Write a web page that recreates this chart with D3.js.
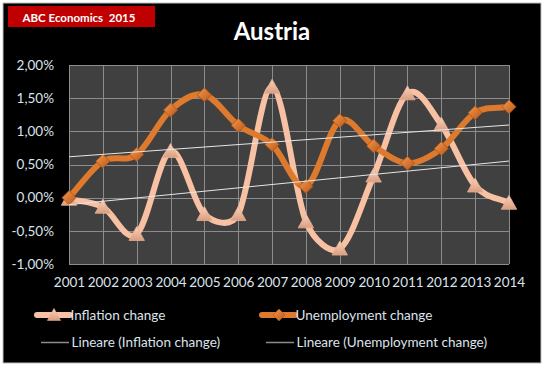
<!DOCTYPE html>
<html><head><meta charset="utf-8">
<script src="https://cdn.jsdelivr.net/npm/d3@7"></script>
<style>
html,body{margin:0;padding:0;background:#fff;}
svg{display:block;}
text{font-family:Lato,"Open Sans",sans-serif;}
</style></head>
<body><svg id="c" width="547" height="368"></svg>
<script>
const years = ["2001","2002","2003","2004","2005","2006","2007","2008","2009","2010","2011","2012","2013","2014"];
const inflation = [-0.02,-0.14,-0.55,0.70,-0.25,-0.25,1.67,-0.36,-0.77,0.33,1.57,1.10,0.18,-0.08];
const unemployment = [0.00,0.55,0.65,1.32,1.55,1.09,0.80,0.17,1.16,0.78,0.52,0.74,1.28,1.37];
const yTicks = [-1,-0.5,0,0.5,1,1.5,2];
const seriesNames = ["Inflation change","Unemployment change"];
const trendNames = ["Lineare (Inflation change)","Lineare (Unemployment change)"];
const headerText = "ABC Economics  2015";
const titleText = "Austria";

const svg = d3.select("#c");
const defs = svg.append("defs");
const gT = defs.append("linearGradient").attr("id","gTri").attr("x1",0).attr("y1",0).attr("x2",0).attr("y2",1);
gT.append("stop").attr("offset","0").attr("stop-color","#FBD3BD");
gT.append("stop").attr("offset","1").attr("stop-color","#D99E80");
const gD = defs.append("linearGradient").attr("id","gDia").attr("x1",0).attr("y1",0).attr("x2",1).attr("y2",1);
gD.append("stop").attr("offset","0").attr("stop-color","#F59A4C");
gD.append("stop").attr("offset","1").attr("stop-color","#B9561A");

// background
svg.append("rect").attr("x",3).attr("y",3).attr("width",538).attr("height",360).attr("fill","#000").attr("stroke","#bfbfbf").attr("stroke-width",1);

// header
svg.append("rect").attr("x",8).attr("y",6).attr("width",147).attr("height",21).attr("fill","#C00000");
svg.append("text").attr("x",79).attr("y",21.5).attr("text-anchor","middle").attr("fill","#fff")
  .attr("font-weight","bold").attr("font-size",11.5).attr("xml:space","preserve").text(headerText);
svg.append("text").attr("x",272).attr("y",40).attr("text-anchor","middle").attr("fill","#fff")
  .attr("font-weight","bold").attr("font-size",24).text(titleText);

const x = d3.scalePoint().domain(years).range([69,509]);
const y = d3.scaleLinear().domain([-1,2]).range([264,65]);
const loc = d3.formatLocale({decimal:",",thousands:".",grouping:[3],currency:["","€"],minus:"-",percent:"%"});
const fmt = loc.format(".2%");

// plot bg
svg.append("rect").attr("x",69).attr("y",65).attr("width",440).attr("height",199).attr("fill","#404040");
// grid
const grid = svg.append("g").attr("stroke","#8c8c8c").attr("stroke-width",1);
grid.selectAll("line.h").data(yTicks).join("line").attr("class","h")
  .attr("x1",69).attr("x2",509).attr("y1",d=>Math.round(y(d))+0.5).attr("y2",d=>Math.round(y(d))+0.5);
grid.selectAll("line.v").data(years).join("line").attr("class","v")
  .attr("y1",65).attr("y2",264).attr("x1",d=>Math.round(x(d))+0.5).attr("x2",d=>Math.round(x(d))+0.5);

// axes
const yAxis = d3.axisLeft(y).tickValues(yTicks).tickFormat(d=>fmt(d/100)).tickSize(0).tickPadding(15);
const ya = svg.append("g").attr("transform","translate(69,0)").call(yAxis);
ya.select(".domain").remove();
ya.selectAll("text").attr("fill","#DCE3EC").attr("font-size",13.5).attr("font-family","Lato,'Open Sans',sans-serif");
const xAxis = d3.axisBottom(x).tickSize(0).tickPadding(13);
const xa = svg.append("g").attr("transform","translate(0,264)").call(xAxis);
xa.select(".domain").remove();
xa.selectAll("text").attr("fill","#DCE3EC").attr("font-size",13.5).attr("font-family","Lato,'Open Sans',sans-serif");

// Excel-style smoothed line (Bezier with limited control arms)
function smoothPath(vals){
  const pts = vals.map((v,i)=>[x(years[i]), y(v)]);
  const n = pts.length, p = d3.path();
  const dist=(a,b)=>Math.hypot(a[0]-b[0],a[1]-b[1]);
  p.moveTo(pts[0][0],pts[0][1]);
  for(let i=0;i<n-1;i++){
    const p0=pts[Math.max(i-1,0)], p1=pts[i], p2=pts[i+1], p3=pts[Math.min(i+2,n-1)];
    const d12=dist(p1,p2), d02=dist(p0,p2), d13=dist(p1,p3);
    const c1=d02/6<d12/2, c2=d13/6<d12/2;
    let f0,f1;
    if(c1&&c2){ f0=(i===0)?1/3:1/6; f1=(i+2>n-1)?1/3:1/6; }
    else if(!c1&&!c2){ f0=d12/2/d02; f1=d12/2/d13; }
    else if(!c1){ f0=d12/2/d02; f1=d12/2/d02; }
    else { f0=d12/2/d13; f1=d12/2/d13; }
    const b1=[p1[0]+(p2[0]-p0[0])*f0, p1[1]+(p2[1]-p0[1])*f0];
    const b2=[p2[0]-(p3[0]-p1[0])*f1, p2[1]-(p3[1]-p1[1])*f1];
    p.bezierCurveTo(b1[0],b1[1],b2[0],b2[1],p2[0],p2[1]);
  }
  return p.toString();
}

function triPath(s){ return `M0,${-s*0.55}L${s*0.55},${s*0.45}L${-s*0.55},${s*0.45}Z`; }
function diaPath(s){ return `M0,${-s/2}L${s/2},0L0,${s/2}L${-s/2},0Z`; }

// inflation
svg.append("path").attr("d",smoothPath(inflation)).attr("fill","none").attr("stroke","#F8C1A3").attr("stroke-width",6);
svg.append("g").selectAll("path").data(inflation).join("path")
  .attr("transform",(d,i)=>`translate(${x(years[i])},${y(d)})`).attr("d",triPath(14))
  .attr("fill","url(#gTri)").attr("stroke","#E6AE90").attr("stroke-width",0.8);
// unemployment
svg.append("path").attr("d",smoothPath(unemployment)).attr("fill","none").attr("stroke","#DD7A2E").attr("stroke-width",6);
svg.append("g").selectAll("path").data(unemployment).join("path")
  .attr("transform",(d,i)=>`translate(${x(years[i])},${y(d)})`).attr("d",diaPath(14))
  .attr("fill","url(#gDia)").attr("stroke","#A95015").attr("stroke-width",0.8);

// linear trend lines
function trend(vals){
  const n=vals.length, xs=d3.range(1,n+1);
  const mx=d3.mean(xs), my=d3.mean(vals);
  const b=d3.sum(xs,(xi,i)=>(xi-mx)*(vals[i]-my))/d3.sum(xs,xi=>(xi-mx)*(xi-mx));
  const a=my-b*mx;
  return [a+b*1, a+b*n];
}
[inflation,unemployment].forEach(v=>{
  const t=trend(v);
  svg.append("line").attr("x1",x(years[0])).attr("x2",x(years[years.length-1]))
    .attr("y1",y(t[0])).attr("y2",y(t[1])).attr("stroke","#e6e6e6").attr("stroke-width",1);
});

// legend
const lg = svg.append("g");
const lx = [37,262];
seriesNames.forEach((nm,i)=>{
  const g = lg.append("g");
  const col = i===0?"#F8C1A3":"#DD7A2E";
  g.append("line").attr("x1",lx[i]).attr("x2",lx[i]+33).attr("y1",315).attr("y2",315).attr("stroke",col).attr("stroke-width",6).attr("stroke-linecap","round");
  g.append("path").attr("transform",`translate(${lx[i]+17},315)`).attr("d",i===0?triPath(12):diaPath(12))
    .attr("fill",i===0?"url(#gTri)":"url(#gDia)").attr("stroke",i===0?"#E6AE90":"#A95015").attr("stroke-width",0.6);
  g.append("text").attr("x",lx[i]+33.5).attr("y",319.5).attr("fill","#DCE3EC").attr("font-size",13.5).text(nm);
});
trendNames.forEach((nm,i)=>{
  lg.append("line").attr("x1",lx[i]+4).attr("x2",lx[i]+32).attr("y1",342.5).attr("y2",342.5).attr("stroke","#8c8c8c").attr("stroke-width",1.5);
  lg.append("text").attr("x",lx[i]+34.5).attr("y",347).attr("fill","#DCE3EC").attr("font-size",13.5).text(nm);
});
</script></body></html>
